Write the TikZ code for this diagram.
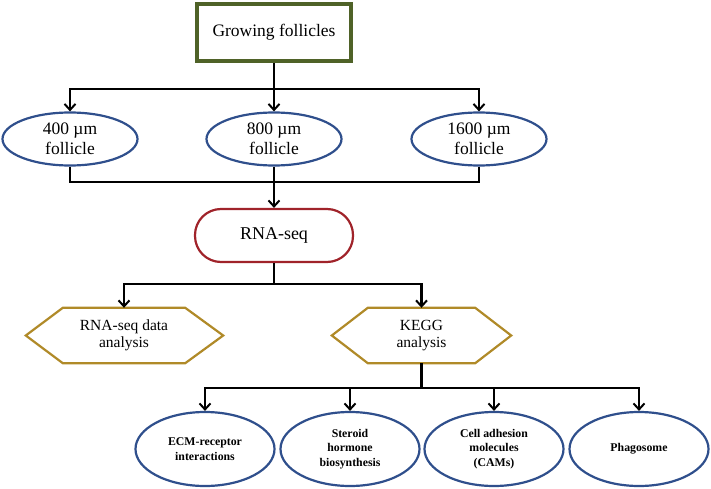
\documentclass[tikz,border=0pt]{standalone}
\usepackage{fontspec}
\setmainfont{Liberation Serif}
\usetikzlibrary{arrows.meta,shapes.geometric}
\definecolor{boxgreen}{HTML}{4F6228}
\definecolor{seqred}{HTML}{A0232A}
\definecolor{hexgold}{HTML}{B08A28}
\definecolor{ellblue}{HTML}{2F4F8C}
\tikzset{
  conn/.style={line width=2.4pt, black},
  arr/.style={conn, -{Straight Barb[length=6pt,width=11pt,line width=2pt]}},
  topbox/.style={draw=boxgreen, line width=4pt, minimum width=154pt, minimum height=57pt, inner sep=0pt, font=\fontsize{17.5}{20}\selectfont},
  follell/.style={ellipse, draw=ellblue, line width=2.2pt, minimum width=135pt, minimum height=53pt, inner sep=0pt, align=center, font=\fontsize{17.5}{20}\selectfont},
  seqbox/.style={rounded corners=26pt, draw=seqred, line width=2.2pt, minimum width=158pt, minimum height=53pt, inner sep=0pt, font=\fontsize{18}{20}\selectfont},
  hexcore/.style={minimum height=55pt, inner sep=0pt, align=center, font=\fontsize{15.5}{17.5}\selectfont},
  hexline/.style={draw=hexgold, line width=2.2pt, line join=miter},
  pathell/.style={ellipse, draw=ellblue, line width=2.2pt, minimum width=139pt, minimum height=74pt, inner sep=0pt, align=center, font=\fontsize{11.8}{14.5}\selectfont\bfseries},
}
\begin{document}
\begin{tikzpicture}[x=1pt,y=-1pt]
\useasboundingbox (0,0) rectangle (711,489);
% top
\node[topbox] (grow) at (274,32.5) {Growing follicles};
% follicles
\node[follell] (f400) at (70,139) {400 µm\\follicle};
\node[follell] (f800) at (274,139) {800 µm\\follicle};
\node[follell] (f1600) at (479,139) {1600 µm\\follicle};
\coordinate (j1) at (274,89);
\draw[conn] (grow.south) -- (j1);
\draw[arr] (j1) -- (f800.north);
\draw[arr] (j1) -| (f400.north);
\draw[arr] (j1) -| (f1600.north);
% RNA-seq
\node[seqbox] (seq) at (274,235.5) {RNA-seq};
\coordinate (j2) at (274,182);
\draw[conn] (f400.south) |- (j2);
\draw[conn] (f1600.south) |- (j2);
\draw[conn] (f800.south) -- (j2);
\draw[arr] (j2) -- (seq.north);
% hexagons
\node[hexcore, minimum width=122pt] (rd) at (124,335.5) {RNA-seq data\\analysis};
\node[hexcore, minimum width=107pt] (kegg) at (421.5,335.5) {KEGG\\analysis};
\draw[hexline] (rd.north west) -- (rd.north east) -- ([xshift=38pt]rd.east) -- (rd.south east) -- (rd.south west) -- ([xshift=-37pt]rd.west) -- cycle;
\draw[hexline] (kegg.north west) -- (kegg.north east) -- ([xshift=36pt]kegg.east) -- (kegg.south east) -- (kegg.south west) -- ([xshift=-36pt]kegg.west) -- cycle;
\coordinate (j3) at (274,284);
\draw[conn] (seq.south) -- (j3);
\draw[arr] (j3) -| (rd.north);
\draw[arr] (j3) -| (kegg.north);
% pathways
\node[pathell] (ecm) at (205,449) {ECM-receptor\\interactions};
\node[pathell] (ster) at (350,449) {Steroid\\hormone\\biosynthesis};
\node[pathell] (cam) at (494,449) {Cell adhesion\\molecules\\(CAMs)};
\node[pathell] (phag) at (639,449) {Phagosome};
\coordinate (j4) at (421.5,388);
\draw[conn] (kegg.south) -- (j4);
\draw[arr] (j4) -| (ecm.north);
\draw[arr] (j4) -| (ster.north);
\draw[arr] (j4) -| (cam.north);
\draw[arr] (j4) -| (phag.north);
\end{tikzpicture}
\end{document}
